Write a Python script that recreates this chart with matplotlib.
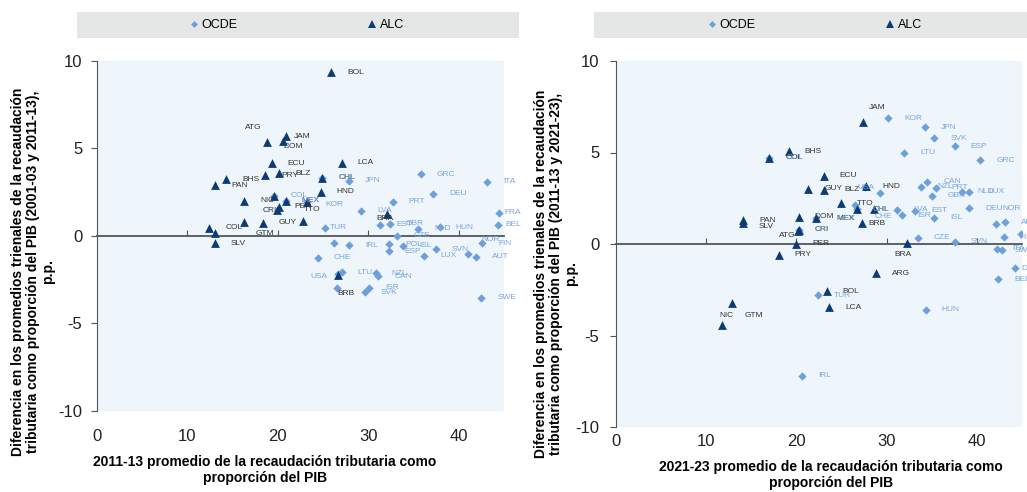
import matplotlib
matplotlib.use("Agg")
import matplotlib.pyplot as plt
from matplotlib.patches import Rectangle
from matplotlib.lines import Line2D

# ---- panel 1: 2011-13 level (x) vs change 2001-03 -> 2011-13 (y)
alc1_code = ["BOL", "ATG", "JAM", "DOM", "ECU", "LCA", "BHS", "PAN", "PRY", "BLZ",
             "CHL", "HND", "NIC", "HTI", "MEX", "TTO", "PER", "CRI", "GUY", "GTM",
             "URY", "COL", "VEN", "SLV", "BRA", "BRB"]
alc1_x = [25.9, 18.8, 20.85, 20.6, 19.3, 27.07, 14.25, 13.04, 18.6, 20.14,
          24.9, 24.72, 16.24, 19.59, 20.88, 23.17, 20.08, 19.89, 18.34, 16.24,
          22.8, 12.41, 13.04, 13.04, 32.1, 26.7]
alc1_y = [9.37, 5.39, 5.7, 5.4, 4.15, 4.19, 3.24, 2.9, 3.47, 3.58,
          3.33, 2.53, 2.02, 2.29, 2.0, 1.94, 1.67, 1.51, 0.76, 0.82,
          0.87, 0.47, 0.15, -0.42, 1.26, -2.21]

ocde1_code = ["GRC", "ITA", "JPN", "DEU", "PRT", "LVA", "KOR", "COL", "MEX", "CHL",
              "TUR", "EST", "GBR", "NLD", "HUN", "CZE", "FRA", "BEL", "FIN", "NOR",
              "IRL", "AUS", "CHE", "POL", "ESP", "ISL", "LUX", "SVN", "AUT", "SWE",
              "LTU", "USA", "DNK", "NZL", "CAN", "ISR", "SVK"]
ocde1_x = [35.8, 43.1, 27.9, 37.2, 32.7, 29.2, 23.17, 19.59, 20.88, 24.9,
           25.25, 31.3, 32.4, 35.5, 37.9, 33.2, 44.4, 44.3, 42.6, 41.0,
           27.9, 26.2, 24.4, 32.3, 32.26, 33.85, 36.2, 37.46, 41.9, 42.5,
           27.04, 26.7, 26.52, 30.8, 31.1, 30.1, 29.6]
ocde1_y = [3.54, 3.1, 3.16, 2.4, 1.96, 1.43, 1.94, 2.29, 2.0, 3.33,
           0.46, 0.63, 0.7, 0.4, 0.5, 0.0, 1.33, 0.63, -0.42, -1.05,
           -0.53, -0.38, -1.24, -0.47, -0.86, -0.57, -1.14, -0.76, -1.18, -3.53,
           -2.07, -2.2, -2.95, -2.13, -2.29, -2.97, -3.22]

# ---- panel 2: 2021-23 level (x) vs change 2011-13 -> 2021-23 (y)
alc2_code = ["JAM", "ECU", "GUY", "BLZ", "TTO", "CHL", "URY", "HND", "DOM", "MEX",
             "CRI", "ATG", "PER", "PRY", "BOL", "LCA", "ARG", "BRA", "NIC", "GTM",
             "BHS", "COL", "PAN", "SLV", "BRB"]
alc2_x = [27.37, 23.0, 21.33, 23.1, 24.9, 26.7, 28.56, 27.74, 20.26, 22.2,
          20.26, 20.2, 19.97, 18.03, 23.37, 23.6, 28.8, 32.2, 11.74, 12.85,
          19.15, 17.0, 14.1, 14.04, 27.3]
alc2_y = [6.67, 3.74, 3.01, 2.96, 2.23, 1.9, 1.93, 3.16, 1.48, 1.41,
          0.77, 0.72, 0.02, -0.6, -2.58, -3.45, -1.59, 0.07, -4.44, -3.25,
          5.06, 4.7, 1.3, 1.14, 1.13]

ocde2_code = ["KOR", "JPN", "SVK", "ESP", "GRC", "LTU", "CAN", "NZL", "PRT", "GBR",
              "NLD", "LUX", "LVA", "ISR", "EST", "ISL", "DEU", "NOR", "AUT", "CZE",
              "SVN", "FIN", "FRA", "ITA", "SWE", "DNK", "BEL", "HUN", "TUR", "IRL",
              "CHE", "USA", "AUS", "COL", "MEX", "CHL", "CRI"]
ocde2_x = [30.15, 34.26, 35.3, 37.56, 40.37, 31.96, 34.5, 33.86, 35.44, 35.0,
           38.3, 39.1, 31.14, 31.67, 33.14, 35.26, 39.14, 42.1, 43.08, 33.48,
           37.56, 42.97, 44.9, 42.19, 42.78, 44.2, 42.37, 34.33, 22.37, 20.63,
           26.45, 27.6, 29.3, 17.0, 22.2, 26.7, 20.26]
ocde2_y = [6.87, 6.37, 5.77, 5.35, 4.58, 5.0, 3.41, 3.14, 3.08, 2.65,
           2.85, 2.85, 1.86, 1.57, 1.81, 1.44, 1.96, 1.11, 1.2, 0.35,
           0.11, 0.38, 0.53, -0.26, -0.35, -1.33, -1.93, -3.58, -2.8, -7.2,
           2.12, 3.1, 2.81, 4.7, 1.41, 1.9, 0.77]

# label nudges in pixels (dx, dy, ha); default is just right of the marker
nudge_alc1 = {"ATG": (-22, 14, "left"), "JAM": (8, 0, "left"), "DOM": (0, -5, "left"),
              "TTO": (-3, -7, "left"), "CRI": (-14, -1, "left"), "GTM": (12, -12, "left"),
              "BRA": (-11, -5, "left"), "BRB": (-1, -19, "left")}
nudge_ocde1 = {"TUR": (4, 0, "left"), "FRA": (6, 0, "left"), "BEL": (8, 0, "left"),
               "NOR": (14, 15, "left"), "USA": (-28, -2, "left"), "KOR": (19, -2, "left")}
nudge_alc2 = {"JAM": (6, 14, "left"), "BLZ": (20, 0, "left"), "MEX": (20, 0, "left"),
              "ATG": (-3, -5, "right"), "BRA": (-4, -12, "center"), "NIC": (5, 10, "center"),
              "GTM": (13, -12, "left"), "SLV": (16, -3, "left"), "BRB": (6, 0, "left")}
nudge_ocde2 = {"LUX": (20, 0, "left"), "NOR": (7, 15, "left"), "SWE": (13, 0, "left"),
               "DNK": (7, 0, "left"), "CHE": (20, -11, "left"), "USA": (-8, 0, "left"),
               "MEX": (21, 0, "left"), "COL": (17, 0, "left")}
hide_alc1 = {"HTI", "URY", "VEN"}
hide_ocde1 = {"AUS", "DNK"}
hide_alc2 = {"URY"}
hide_ocde2 = {"AUS", "FRA"}

C_OCDE = "#6d9fda"
C_ALC = "#0c3b76"
T_OCDE = "#7aa6dc"
T_ALC = "#333333"
AXC = "#555555"
BG = "#eef6fc"
GRAY = "#e5e6e6"
W, H = 1027, 492

plt.rcParams["axes.unicode_minus"] = False
narrow = ["Liberation Sans Narrow", "Liberation Sans", "DejaVu Sans"]
plain = ["Liberation Sans", "DejaVu Sans"]

fig = plt.figure(figsize=(W / 100, H / 100), dpi=100)
ax1 = fig.add_axes([97 / W, 1 - 411 / H, 407 / W, 350 / H])
ax2 = fig.add_axes([616 / W, 1 - 427 / H, 406 / W, 366 / H])


def draw(ax, ox, oy, ocodes, axx, ayy, acodes, na, no, ha_, ho, xpad, ypad):
    ax.set_facecolor(BG)
    ax.scatter(ox, oy, marker="D", s=18, color=C_OCDE, linewidths=0, zorder=3)
    ax.scatter(axx, ayy, marker="^", s=40, color=C_ALC, linewidths=0, zorder=4)
    for codes, xs, ys, col, nd, hd in ((acodes, axx, ayy, T_ALC, na, ha_),
                                       (ocodes, ox, oy, T_OCDE, no, ho)):
        for c, x, y in zip(codes, xs, ys):
            if c in hd:
                continue
            dx, dy, h = nd.get(c, (16, 0, "left"))
            ax.annotate(c, (x, y), xytext=(dx, dy), textcoords="offset pixels",
                        ha=h, va="center", fontsize=6, color=col, family=plain,
                        annotation_clip=False, zorder=5)
    ax.set_xlim(0, 45)
    ax.set_ylim(-10, 10)
    ax.set_xticks([0, 10, 20, 30, 40])
    ax.set_yticks([-10, -5, 0, 5, 10])
    for s in ["top", "right", "bottom"]:
        ax.spines[s].set_visible(False)
    ax.spines["left"].set_color(AXC)
    ax.tick_params(axis="x", length=0, pad=xpad, labelsize=12, labelcolor="#222222")
    ax.tick_params(axis="y", length=4, color=AXC, pad=ypad, labelsize=12, labelcolor="#222222")
    for lab in ax.get_xticklabels() + ax.get_yticklabels():
        lab.set_family(narrow)
    sec = ax.secondary_xaxis(0.5)
    sec.set_xticks([10, 20, 30, 40])
    sec.tick_params(length=4, color=AXC, labeltop=False, labelbottom=False)
    sec.spines["top"].set_color(AXC)
    sec.spines["top"].set_linewidth(1.3)


draw(ax1, ocde1_x, ocde1_y, ocde1_code, alc1_x, alc1_y, alc1_code,
     nudge_alc1, nudge_ocde1, hide_alc1, hide_ocde1, 13, 6.5)
draw(ax2, ocde2_x, ocde2_y, ocde2_code, alc2_x, alc2_y, alc2_code,
     nudge_alc2, nudge_ocde2, hide_alc2, hide_ocde2, 5, 8)


def banner(x0, x1, cx):
    fig.add_artist(Rectangle((x0 / W, 1 - 38 / H), (x1 - x0) / W, 26 / H,
                             transform=fig.transFigure, facecolor=GRAY,
                             edgecolor="none", zorder=0))
    hs = [Line2D([], [], ls="none", marker="D", ms=3.5, color=C_OCDE, mew=0),
          Line2D([], [], ls="none", marker="^", ms=5.5, color=C_ALC, mew=0)]
    fig.legend(hs, ["OCDE", "ALC"], loc="center", bbox_to_anchor=(cx / W, 1 - 25 / H),
               ncol=2, frameon=False, prop=dict(family=narrow, size=9),
               handlelength=0.6, handletextpad=0.3, columnspacing=10.5, borderpad=0)


banner(77, 519, 297)
banner(594, 1030, 815)

ylab = ("Diferencia en los promedios trienales de la recaudación\n"
        "tributaria como proporción del PIB ({}),\np.p.")
fig.text(33 / W, 1 - 272 / H, ylab.format("2001-03 y 2011-13"), rotation=90,
         ha="center", va="center", multialignment="center", fontsize=10,
         fontweight="bold", family=plain, linespacing=1.08)
fig.text(556 / W, 1 - 274 / H, ylab.format("2011-13 y 2021-23"), rotation=90,
         ha="center", va="center", multialignment="center", fontsize=10,
         fontweight="bold", family=plain, linespacing=1.08)

xlab = "{} promedio de la recaudación tributaria como\nproporción del PIB"
fig.text(265 / W, 1 - 470 / H, xlab.format("2011-13"), ha="center", va="center",
         fontsize=10, fontweight="bold", family=narrow, linespacing=1.15)
fig.text(831 / W, 1 - 475 / H, xlab.format("2021-23"), ha="center", va="center",
         fontsize=10, fontweight="bold", family=narrow, linespacing=1.15)

fig.savefig("out.png", dpi=100)
